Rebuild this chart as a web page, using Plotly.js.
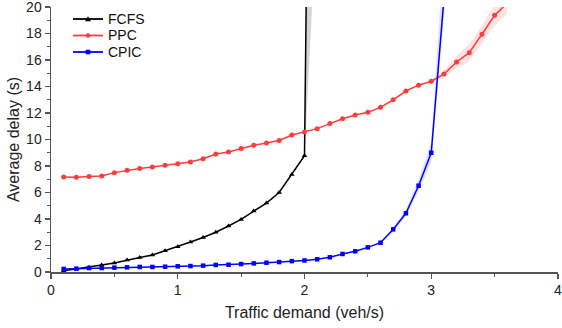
<!DOCTYPE html>
<html>
<head>
<meta charset="utf-8">
<script src="https://cdn.plot.ly/plotly-3.0.1.min.js"></script>
<style>html,body{margin:0;padding:0;background:#fff}#chart{width:562px;height:328px}</style>
</head>
<body>
<div id="chart"></div>
<script>
// Traffic demand (veh/s)
const demand = [0.1,0.2,0.3,0.4,0.5,0.6,0.7,0.8,0.9,1.0,1.1,1.2,1.3,1.4,1.5,1.6,1.7,1.8,1.9,2.0,2.1,2.2,2.3,2.4,2.5,2.6,2.7,2.8,2.9,3.0,3.1,3.2,3.3,3.4,3.5,3.6];

// FCFS (last point is far above the axis range)
const fcfsX = [0.1,0.2,0.3,0.4,0.5,0.6,0.7,0.8,0.9,1.0,1.1,1.2,1.3,1.4,1.5,1.6,1.7,1.8,1.9,2.0,2.1];
const fcfsY = [0.1,0.23,0.35,0.53,0.68,0.9,1.1,1.28,1.6,1.9,2.26,2.6,3.0,3.47,3.97,4.6,5.2,6.0,7.35,8.78,95];

// PPC
const ppcY = [7.17,7.15,7.2,7.25,7.5,7.67,7.82,7.92,8.05,8.17,8.3,8.55,8.9,9.05,9.33,9.56,9.73,9.93,10.34,10.56,10.82,11.2,11.57,11.85,12.05,12.43,13.0,13.66,14.1,14.4,14.94,15.85,16.55,17.94,19.37,20.3];

// CPIC
const cpicX = [0.1,0.2,0.3,0.4,0.5,0.6,0.7,0.8,0.9,1.0,1.1,1.2,1.3,1.4,1.5,1.6,1.7,1.8,1.9,2.0,2.1,2.2,2.3,2.4,2.5,2.6,2.7,2.8,2.9,3.0,3.1];
const cpicY = [0.23,0.25,0.3,0.3,0.33,0.35,0.38,0.38,0.4,0.43,0.45,0.48,0.53,0.55,0.6,0.65,0.7,0.75,0.82,0.87,0.96,1.11,1.36,1.56,1.86,2.21,3.22,4.43,6.51,9.0,20.6];

// Shaded spread bands (polygon outlines)
const fcfsBandX = [2.0, 2.065, 2.012];
const fcfsBandY = [8.78, 21, 21];
const ppcBandX = [3.0, 3.1, 3.2, 3.3, 3.4, 3.5, 3.6, 3.6, 3.5, 3.4, 3.3, 3.2, 3.1, 3.0];
const ppcBandY = [14.5, 15.2, 16.3, 17.2, 18.6, 20.2, 21.5, 19.5, 18.6, 17.2, 15.9, 15.4, 14.7, 14.3];
const cpicBandX = [2.6, 2.7, 2.8, 2.9, 3.0, 3.1, 3.15, 3.0, 2.9, 2.8, 2.7, 2.6];
const cpicBandY = [2.25, 3.4, 4.7, 7.0, 9.8, 24.6, 24.6, 8.3, 6.1, 4.2, 3.0, 2.15];

const seriesNames = ['FCFS', 'PPC', 'CPIC'];
const seriesColors = ['#000000', '#ff3c3c', '#0000ff'];
const xTicks = [0, 1, 2, 3, 4];
const yTicks = [0, 2, 4, 6, 8, 10, 12, 14, 16, 18, 20];

const FONT = 'Liberation Sans, Arial, sans-serif';

const traces = [
  {x: fcfsBandX, y: fcfsBandY, type: 'scatter', mode: 'lines', fill: 'toself',
   fillcolor: 'rgba(160,160,160,0.45)', line: {width: 0}, showlegend: false, hoverinfo: 'skip'},
  {x: ppcBandX, y: ppcBandY, type: 'scatter', mode: 'lines', fill: 'toself',
   fillcolor: 'rgba(255,120,120,0.22)', line: {width: 0}, showlegend: false, hoverinfo: 'skip'},
  {x: cpicBandX, y: cpicBandY, type: 'scatter', mode: 'lines', fill: 'toself',
   fillcolor: 'rgba(120,120,255,0.22)', line: {width: 0}, showlegend: false, hoverinfo: 'skip'},
  {x: fcfsX, y: fcfsY, name: seriesNames[0], type: 'scatter', mode: 'lines+markers', showlegend: false,
   line: {color: seriesColors[0], width: 1.5}, marker: {symbol: 'triangle-up', size: 5, color: seriesColors[0]}},
  {x: demand, y: ppcY, name: seriesNames[1], type: 'scatter', mode: 'lines+markers', showlegend: false,
   line: {color: seriesColors[1], width: 1.5}, marker: {symbol: 'circle', size: 5, color: seriesColors[1]}},
  {x: cpicX, y: cpicY, name: seriesNames[2], type: 'scatter', mode: 'lines+markers', showlegend: false,
   line: {color: seriesColors[2], width: 1.5}, marker: {symbol: 'square', size: 4.5, color: seriesColors[2]}}
];

// Compact legend drawn with shapes + annotations (paper coordinates)
const plotL = 51, plotT = 7, plotW = 507, plotH = 265;
const px2x = p => (p - plotL) / plotW;
const py2y = p => (plotT + plotH - p) / plotH;
const legendRows = [19, 35.5, 52];
const shapes = [];
const annotations = [];
const markerPaths = ['M -3 -2.2 L 3 -2.2 L 0 2.8 Z'];
seriesNames.forEach((name, i) => {
  const yy = py2y(legendRows[i]);
  shapes.push({type: 'line', xref: 'paper', yref: 'paper', x0: px2x(73), x1: px2x(103), y0: yy, y1: yy,
               line: {color: seriesColors[i], width: 1.8}});
  if (i === 0) {
    shapes.push({type: 'path', xref: 'paper', yref: 'paper', xsizemode: 'pixel', ysizemode: 'pixel',
                 xanchor: px2x(88), yanchor: yy, path: markerPaths[0],
                 fillcolor: seriesColors[i], line: {width: 0}});
  } else {
    shapes.push({type: i === 1 ? 'circle' : 'rect', xref: 'paper', yref: 'paper',
                 xsizemode: 'pixel', ysizemode: 'pixel', xanchor: px2x(88), yanchor: yy,
                 x0: -2.3, x1: 2.3, y0: -2.3, y1: 2.3, fillcolor: seriesColors[i], line: {width: 0}});
  }
  annotations.push({xref: 'paper', yref: 'paper', x: px2x(106), y: yy, xanchor: 'left', yanchor: 'middle',
                    text: name, showarrow: false, font: {family: FONT, size: 14, color: '#111'}});
});

const axisCommon = {
  showline: true, linecolor: '#555555', linewidth: 1.5, mirror: false,
  ticks: 'outside', ticklen: 5, tickwidth: 1.2, tickcolor: '#555555',
  showgrid: false, zeroline: false, ticklabeloverflow: 'allow',
  tickfont: {family: FONT, size: 14, color: '#222'}
};

const layout = {
  width: 562, height: 328,
  margin: {l: 51, r: 4, t: 7, b: 56},
  paper_bgcolor: '#ffffff', plot_bgcolor: '#ffffff',
  font: {family: FONT, color: '#222'},
  showlegend: false,
  shapes: shapes,
  annotations: annotations,
  xaxis: Object.assign({}, axisCommon, {
    range: [0, 4], tickvals: xTicks, ticktext: xTicks.map(String),
    minor: {dtick: 0.5, tick0: 0, ticks: 'outside', ticklen: 3, tickcolor: '#555555', tickwidth: 1.2},
    title: {text: 'Traffic demand (veh/s)', font: {family: FONT, size: 16, color: '#222'}, standoff: 9}
  }),
  yaxis: Object.assign({}, axisCommon, {
    range: [0, 20], tickvals: yTicks, ticktext: yTicks.map(String),
    minor: {dtick: 1, tick0: 0, ticks: 'outside', ticklen: 3, tickcolor: '#555555', tickwidth: 1.2},
    title: {text: 'Average delay (s)', font: {family: FONT, size: 16, color: '#222'}, standoff: 2}
  })
};

Plotly.newPlot('chart', traces, layout, {displayModeBar: false, staticPlot: true});
</script>
</body>
</html>
